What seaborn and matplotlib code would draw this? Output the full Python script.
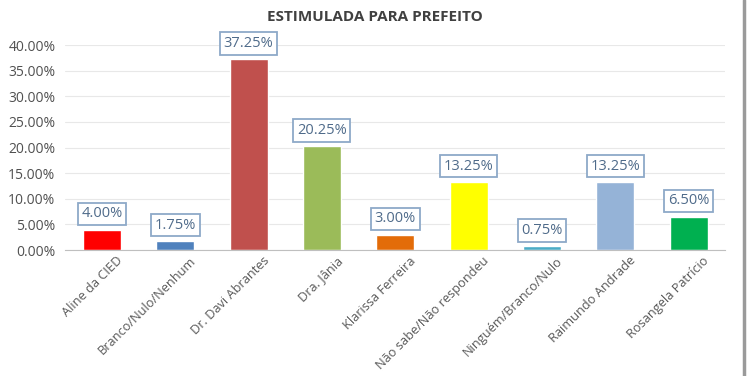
import matplotlib
matplotlib.use('Agg')
import matplotlib.pyplot as plt
import matplotlib.transforms as mtransforms
import seaborn as sns
import pandas as pd
from matplotlib.ticker import FuncFormatter

# dados
candidatos = ['Aline da CIED', 'Branco/Nulo/Nenhum', 'Dr. Davi Abrantes', 'Dra. Jânia',
              'Klarissa Ferreira', 'Não sabe/Não respondeu', 'Ninguém/Branco/Nulo',
              'Raimundo Andrade', 'Rosangela Patrício']
valores = [4.00, 1.75, 37.25, 20.25, 3.00, 13.25, 0.75, 13.25, 6.50]
cores = ['#FF0000', '#4F81BD', '#C0504D', '#9BBB59', '#E36C09',
         '#FFFF00', '#4BACC6', '#95B3D7', '#00B050']

df = pd.DataFrame({'candidato': candidatos, 'valor': valores})

sns.set_style('white')
plt.rcParams['font.family'] = ['Open Sans', 'DejaVu Sans']

fig = plt.figure(figsize=(7.5, 3.76), dpi=100)
ax = fig.add_axes([0.087, 0.335, 0.88, 0.545])

sns.barplot(data=df, x='candidato', y='valor', hue='candidato', palette=cores,
            legend=False, width=0.52, ax=ax, saturation=1)

ax.set_ylim(0, 40)
ax.set_xlim(-0.5, len(candidatos) - 0.5)
ax.set_yticks(range(0, 41, 5))
ax.yaxis.set_major_formatter(FuncFormatter(lambda v, p: f'{v:.2f}%'))
ax.grid(axis='y', color='#E8E8E8', linewidth=0.8)
ax.set_axisbelow(True)
for s in ['top', 'right', 'left']:
    ax.spines[s].set_visible(False)
ax.spines['bottom'].set_color('#BFBFBF')
ax.tick_params(axis='y', length=0, labelsize=10, labelcolor='#505050', pad=7)
ax.set_xticks([i + 0.5 for i in range(-1, len(candidatos))], minor=True)
ax.tick_params(axis='x', which='major', length=0, labelsize=9.2, labelcolor='#595959', pad=3)
ax.tick_params(axis='x', which='minor', length=5, color='#BFBFBF', direction='out')
desloc = mtransforms.ScaledTranslation(14 / 100, 0, fig.dpi_scale_trans)
for lbl in ax.get_xticklabels():
    lbl.set_rotation(45)
    lbl.set_ha('right')
    lbl.set_rotation_mode('anchor')
    lbl.set_transform(lbl.get_transform() + desloc)
ax.set_xlabel('')
ax.set_ylabel('')

for i, v in enumerate(valores):
    ax.annotate(f'{v:.2f}%', (i, v), xytext=(0, 6), textcoords='offset points',
                ha='center', va='bottom', fontsize=10.5, color='#4F6B8A',
                bbox=dict(boxstyle='square,pad=0.25', fc='white', ec='#8EA9C8', lw=1.3))

fig.text(0.5, 0.955, 'ESTIMULADA PARA PREFEITO', ha='center', va='center',
         fontsize=11, fontweight='bold', color='#404040')

fig.add_artist(plt.Line2D([0.992, 0.992], [0, 1], transform=fig.transFigure,
                          color='#9A9A9A', lw=2.5))

fig.savefig('out.png', dpi=100)
